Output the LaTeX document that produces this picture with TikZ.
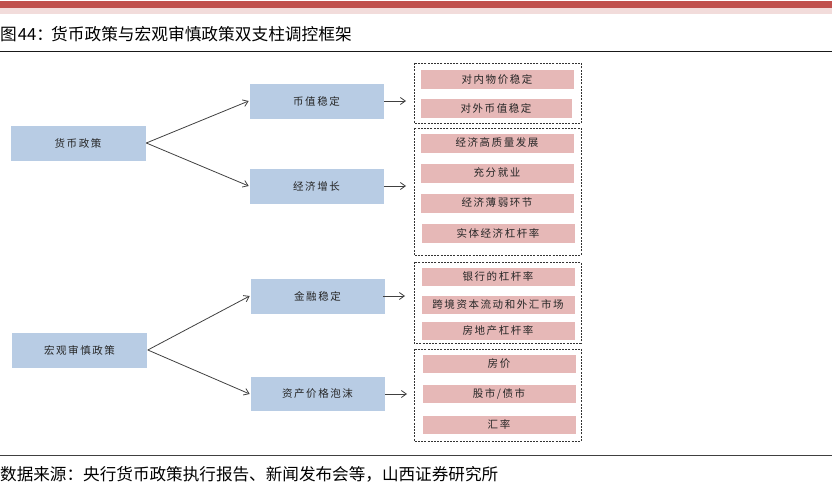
\documentclass[tikz,border=0pt]{standalone}
\usepackage{fontspec}
\setmainfont{Noto Sans CJK SC}
\newfontfamily\cjk{Noto Sans CJK SC}
\newfontfamily\boxfont[LetterSpace=15]{Noto Sans CJK SC}
\usetikzlibrary{arrows.meta}
\definecolor{bandred}{HTML}{C0504D}
\definecolor{bandpink}{HTML}{F2DCDB}
\definecolor{blueb}{HTML}{B8CCE4}
\definecolor{pinkb}{HTML}{E6B8B7}
\definecolor{arrowc}{HTML}{404040}
\tikzset{
  bluebox/.style={fill=blueb, draw=white, line width=0.6pt, inner sep=0pt, font=\boxfont\fontsize{10.5}{12}\selectfont, text=black!85},
  pinkbox/.style={fill=pinkb, draw=white, line width=0.6pt, inner sep=0pt, font=\boxfont\fontsize{10.5}{12}\selectfont, text=black!85},
  group/.style={draw=black!80, dashed, dash pattern=on 2pt off 1.2pt, line width=0.6pt},
  conn/.style={draw=arrowc, line width=0.8pt, -{Straight Barb[length=5pt,width=7pt]}}
}
\begin{document}
\begin{tikzpicture}[x=1pt,y=-1pt]
\useasboundingbox (0,0) rectangle (832,486);
% header bands
\fill[bandred] (0,1) rectangle (832,8);
\fill[bandpink] (0,8) rectangle (832,14);
\node[anchor=west, font=\cjk\fontsize{16.7}{18}\selectfont, inner sep=0pt] (title) at (0,34.5) {图\hspace{1pt}44：\hspace{-2pt}货币政策与宏观审慎政策双支柱调控框架};
\draw[black!90, line width=1pt] (0,52) -- (832,52);
\draw[black!75, line width=0.8pt] (0,455) -- (832,455);
\node[anchor=west, font=\cjk\fontsize{16.6}{18}\selectfont, inner sep=0pt] (src) at (0,474.5) {数据来源：央行货币政策执行报告、新闻发布会等，山西证券研究所};

% left boxes
\node[bluebox, minimum width=136pt, minimum height=36pt] (mp) at (78,143) {货币政策};
\node[bluebox, minimum width=136pt, minimum height=36pt] (mpp) at (79.5,350) {宏观审慎政策};
% middle boxes
\node[bluebox, minimum width=135pt, minimum height=36pt] (bz) at (316.5,101) {币值稳定};
\node[bluebox, minimum width=135pt, minimum height=36pt] (jj) at (316.5,186) {经济增长};
\node[bluebox, minimum width=135pt, minimum height=36pt] (jr) at (317.5,296) {金融稳定};
\node[bluebox, minimum width=135pt, minimum height=35pt] (zc) at (317.5,394) {资产价格泡沫};

% dashed groups
\draw[group] (414,63) rectangle (581,123);
\coordinate (g1) at (414,101);
\draw[group] (414,128) rectangle (581,255);
\coordinate (g2) at (414,186);
\draw[group] (414,262) rectangle (581,343);
\coordinate (g3) at (414,296);
\draw[group] (414,349) rectangle (581,441);
\coordinate (g4) at (414,394);

% pink boxes
\node[pinkbox, minimum width=154pt, minimum height=20pt] (p1) at (497,79.5) {对内物价稳定};
\node[pinkbox, minimum width=152pt, minimum height=20pt] (p2) at (496,108) {对外币值稳定};
\node[pinkbox, minimum width=154pt, minimum height=20pt] (p3) at (497,143) {经济高质量发展};
\node[pinkbox, minimum width=154pt, minimum height=20pt] (p4) at (497,173) {充分就业};
\node[pinkbox, minimum width=154pt, minimum height=20pt] (p5) at (497,203) {经济薄弱环节};
\node[pinkbox, minimum width=154pt, minimum height=20pt] (p6) at (498,233) {实体经济杠杆率};
\node[pinkbox, minimum width=154pt, minimum height=19pt] (p7) at (498,276.5) {银行的杠杆率};
\node[pinkbox, minimum width=154pt, minimum height=19pt] (p8) at (498,304.5) {跨境资本流动和外汇市场};
\node[pinkbox, minimum width=154pt, minimum height=19pt] (p9) at (498,330.5) {房地产杠杆率};
\node[pinkbox, minimum width=154pt, minimum height=19pt] (p10) at (499,363.5) {房价};
\node[pinkbox, minimum width=154pt, minimum height=19pt] (p11) at (499,393.5) {股市/债市};
\node[pinkbox, minimum width=154pt, minimum height=19pt] (p12) at (499,424.5) {汇率};

% connectors
\draw[conn] (mp.east) -- (bz.west);
\draw[conn] (mp.east) -- (jj.west);
\draw[conn] (mpp.east) -- (jr.west);
\draw[conn] (mpp.east) -- (zc.west);
\draw[conn] (bz.east) -- ([xshift=-8pt]g1);
\draw[conn] (jj.east) -- ([xshift=-8pt]g2);
\draw[conn] ([xshift=-2pt]jr.east) -- ([xshift=-9pt]g3);
\draw[conn] (zc.east) -- ([xshift=-7pt]g4);
\end{tikzpicture}
\end{document}
